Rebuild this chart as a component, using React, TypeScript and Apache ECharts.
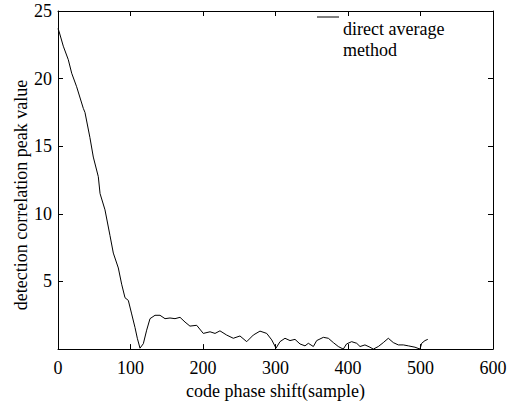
import React, { useEffect, useRef } from "react";
import * as echarts from "echarts";

const xTicks = [0, 100, 200, 300, 400, 500, 600];
const yTicks = [0, 5, 10, 15, 20, 25];
const shiftX = [0, 1.4, 7.3, 14.2, 18.9, 25.7, 34.9, 37.2, 44, 48.7, 55.6, 58, 64.8, 71.7, 76.3, 83.2, 87.8, 92.4, 97, 101.6, 106.2, 109.4, 113.1, 117.7, 122.3, 126.9, 133.8, 140.7, 147.6, 154.5, 161.4, 168.3, 175.2, 182, 191.3, 200.4, 209.7, 216.6, 223.4, 232.6, 241.8, 251, 260.3, 269.4, 278.6, 287.9, 294.8, 300.7, 306.2, 313.1, 320, 326.9, 333.8, 340.7, 345.3, 352.2, 356.8, 366, 372.9, 379.8, 386.6, 393.5, 398, 405, 412, 416.6, 423.4, 430.3, 434.9, 441.8, 448.7, 455.6, 462.5, 469.4, 476.3, 483.2, 492.4, 499.3, 501.6, 506.2, 510];
const peakY = [23.7, 23.5, 22.4, 21.4, 20.4, 19.4, 17.8, 17.5, 15.65, 14.2, 12.75, 11.5, 10.3, 8.4, 7.1, 6.0, 4.8, 3.8, 3.6, 2.6, 1.6, 0.8, 0.07, 0.4, 1.4, 2.25, 2.5, 2.5, 2.25, 2.3, 2.25, 2.35, 2.0, 1.7, 1.76, 1.16, 1.28, 1.16, 1.35, 1.04, 0.8, 0.97, 0.55, 1.04, 1.33, 1.16, 0.68, 0.07, 0.55, 0.8, 0.63, 0.72, 0.38, 0.24, 0.43, 0.19, 0.63, 0.87, 0.8, 0.48, 0.19, 0.0, 0.38, 0.55, 0.43, 0.19, 0.31, 0.14, 0.0, 0.19, 0.48, 0.8, 0.48, 0.31, 0.31, 0.24, 0.14, 0.0, 0.43, 0.63, 0.72];
const seriesName = "direct average\nmethod";
const xTitle = "code phase shift(sample)";
const yTitle = "detection correlation peak value";

const FONT = "'Liberation Serif', 'DejaVu Serif', serif";

export default function App() {
  const ref = useRef<HTMLDivElement>(null);
  useEffect(() => {
    if (!ref.current) return;
    const chart = echarts.init(ref.current, null, { renderer: "svg" });
    const axisCommon = {
      type: "value" as const,
      axisLine: { show: true, onZero: false, lineStyle: { color: "#000", width: 1 } },
      axisTick: { show: true, inside: true, length: 5, lineStyle: { color: "#000" } },
      splitLine: { show: false },
    };
    const data = shiftX.map((x, i) => [x, peakY[i]]);
    chart.setOption({
      animation: false,
      backgroundColor: "#fff",
      grid: { left: 58, right: 18, top: 11, bottom: 49, containLabel: false },
      xAxis: [
        {
          ...axisCommon,
          position: "bottom",
          min: xTicks[0],
          max: xTicks[xTicks.length - 1],
          interval: 100,
          axisLabel: { color: "#000", fontFamily: FONT, fontSize: 18, margin: 10 },
          name: xTitle,
          nameLocation: "middle",
          nameGap: 28,
          nameTextStyle: { color: "#000", fontFamily: FONT, fontSize: 18 },
        },
        {
          ...axisCommon,
          position: "top",
          min: xTicks[0],
          max: xTicks[xTicks.length - 1],
          interval: 100,
          axisLabel: { show: false },
        },
      ],
      yAxis: [
        {
          ...axisCommon,
          position: "left",
          min: yTicks[0],
          max: yTicks[yTicks.length - 1],
          interval: 5,
          axisLabel: {
            color: "#000",
            fontFamily: FONT,
            fontSize: 18,
            margin: 6,
            formatter: (v: number) => (v === 0 ? "" : String(v)),
          },
        },
        {
          ...axisCommon,
          position: "right",
          min: yTicks[0],
          max: yTicks[yTicks.length - 1],
          interval: 5,
          axisLabel: { show: false },
        },
      ],
      graphic: [
        {
          type: "text",
          x: 21,
          y: 195,
          rotation: Math.PI / 2,
          style: {
            text: yTitle,
            fill: "#000",
            font: `18px ${FONT}`,
            align: "center",
            verticalAlign: "middle",
          },
        },
        {
          type: "line",
          shape: { x1: 317, y1: 17, x2: 339, y2: 17 },
          style: { stroke: "#000", lineWidth: 1 },
        },
        {
          type: "text",
          x: 343,
          y: 18,
          style: {
            text: seriesName,
            fill: "#000",
            font: `18px ${FONT}`,
            lineHeight: 21,
            align: "left",
            verticalAlign: "top",
          },
        },
      ],
      series: [
        {
          type: "line",
          name: seriesName,
          xAxisIndex: 0,
          yAxisIndex: 0,
          data,
          showSymbol: false,
          symbol: "none",
          lineStyle: { color: "#000", width: 1 },
        },
      ],
    });
    return () => chart.dispose();
  }, []);
  return (
    <div
      ref={ref}
      style={{ position: "fixed", left: 0, top: 0, width: 511, height: 405, background: "#fff" }}
    />
  );
}
